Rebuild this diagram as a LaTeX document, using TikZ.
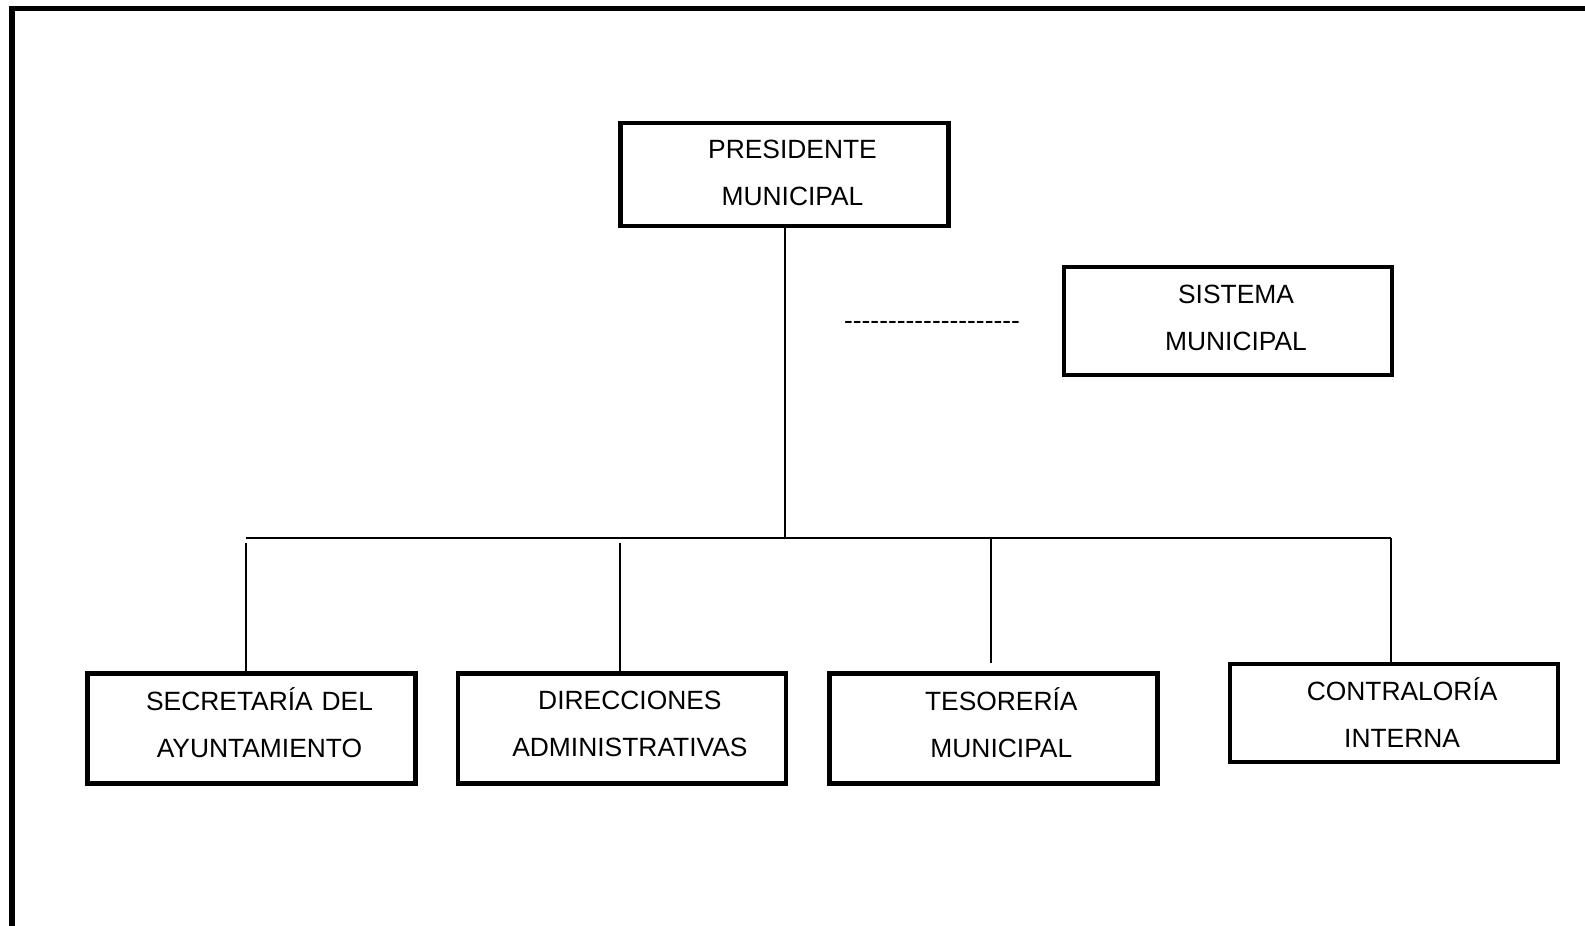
\documentclass[tikz,border=0pt]{standalone}
\usepackage{fontspec}
\setmainfont{Liberation Sans}
\usetikzlibrary{positioning}

\begin{document}
\begin{tikzpicture}[x=0.5pt,y=-0.5pt,node distance=19pt]
    \tikzstyle{orgbox}=[draw,rectangle,line width=2.2pt,inner sep=0pt,align=center,
        text width=150pt,minimum width=164pt,minimum height=55pt,
        font=\fontsize{13.2}{23.5}\selectfont,
        execute at begin node={\advance\leftskip by 8pt}]
    \tikzstyle{lift}=[execute at end node={\rule[-#1]{0pt}{#1}}]
    \tikzstyle{link}=[line width=1pt]

    \useasboundingbox (0,0) rectangle (1585,926);
    % page frame, only its top and left edges fall on the page
    \draw[line width=2.6pt] (12,8.5) rectangle (1700,1100);

    \node[orgbox,lift=1.5pt,minimum height=51.5pt] (pres) at (784.5,174.5) {PRESIDENTE\\MUNICIPAL};
    \node[orgbox,lift=3pt,minimum height=54pt]     (sist) at (1228,321)    {SISTEMA\\MUNICIPAL};
    \node[font=\fontsize{13.2}{16}\selectfont] (gap) at (932,325)
        {\foreach \k in {1,...,20}{\mbox{-}}};

    \node[orgbox,lift=6pt]   (secr) at (251.5,728.5)     {SECRETARÍA DEL\\AYUNTAMIENTO};
    \node[orgbox,lift=4.6pt] (dir)  [right=of secr]      {DIRECCIONES\\ADMINISTRATIVAS};
    \node[orgbox,lift=6pt]   (tes)  [right=19.5pt of dir] {TESORERÍA\\MUNICIPAL};
    \node[orgbox,lift=0pt,minimum height=49pt] (cont) [right=34.2pt of tes,yshift=7.8pt] {CONTRALORÍA\\INTERNA};

    \coordinate (busl) at (246,538);
    \coordinate (busr) at (1391,538);
    \coordinate (dropd) at (620,543);
    \coordinate (dropt) at (991,538);

    \draw[link] (pres.south) -- (pres.south |- busl);
    \draw[link] (busl) -- (busr);
    \draw[link] ([yshift=-2.5pt]busl) -- (busl |- secr.north);
    \draw[link] (dropd) -- (dropd |- dir.north);
    \draw[link] (dropt) -- ([yshift=4pt]dropt |- tes.north);
    \draw[link] (busr) -- (busr |- cont.north);
\end{tikzpicture}
\end{document}
